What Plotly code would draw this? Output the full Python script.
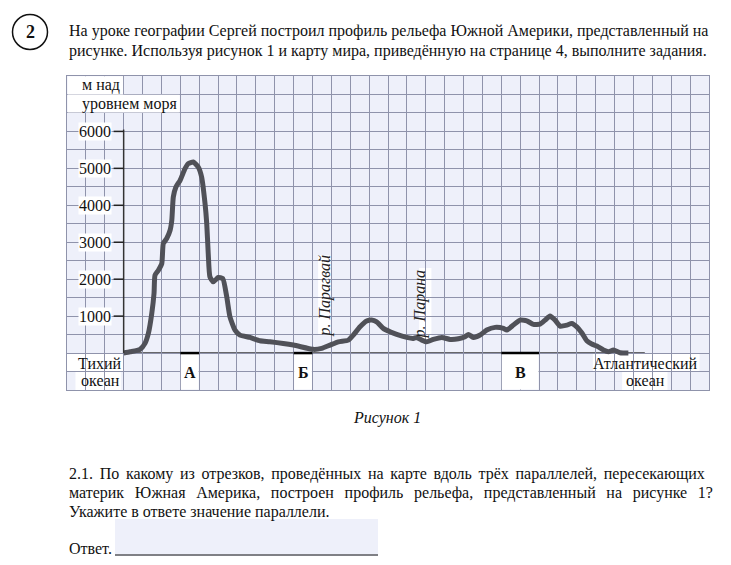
import plotly.graph_objects as go

# ---------------- data ----------------
# distance along the profile (grid cells) and elevation (m above sea level)
profile_x = [3.0, 3.34, 3.87, 4.13, 4.31, 4.49, 4.61, 4.66, 4.84, 5.02, 5.10, 5.28, 5.46, 5.55,
             5.63, 5.77, 5.99, 6.25, 6.42, 6.69, 6.95, 7.13, 7.31, 7.40, 7.48, 7.57, 7.75, 8.01,
             8.25, 8.46, 8.63, 8.90, 9.16, 9.69, 10.22, 10.75, 11.99, 13.05, 13.49, 13.93, 14.37,
             14.90, 15.16, 15.52, 15.87, 16.14, 16.40, 16.75, 17.11, 17.46, 17.99, 18.34, 18.52,
             18.79, 19.05, 19.40, 19.85, 20.29, 20.73, 21.08, 21.26, 21.52, 21.88, 22.23, 22.67,
             23.11, 23.29, 23.64, 23.99, 24.35, 24.70, 25.05, 25.32, 25.58, 25.85, 26.11, 26.47,
             26.73, 27.00, 27.26, 27.53, 27.79, 28.06, 28.41, 28.67, 28.94, 29.29, 29.73]
profile_y = [0, 35, 100, 262, 532, 1073, 1622, 2108, 2243, 2425, 2965, 3100, 3325, 3595,
             4225, 4495, 4676, 4992, 5128, 5171, 5036, 4765, 4046, 3506, 2695, 2062, 1927, 2046,
             2019, 1522, 981, 622, 487, 424, 332, 305, 216, 100, 127, 216, 305,
             351, 487, 711, 865, 892, 846, 668, 576, 505, 424, 397, 424,
             351, 305, 370, 424, 370, 387, 441, 505, 424, 487, 622, 695,
             668, 622, 757, 892, 873, 776, 784, 892, 1000, 892, 730, 757,
             803, 711, 549, 332, 243, 189, 81, 35, 81, 8, 0]

tick_values = [1000, 2000, 3000, 4000, 5000, 6000]
tick_labels = ["1000", "2000", "3000", "4000", "5000", "6000"]

segment_names = ["А", "Б", "В"]
segment_start = [6, 12, 23]
segment_end = [7, 13, 25]

river_names = ["р. Парагвай", "р. Парана"]
river_x = [13.65, 18.7]
river_y = [1550, 1320]

header_lines = [
    "На уроке географии Сергей построил профиль рельефа Южной Америки, представленный на",
    "рисунке. Используя рисунок 1 и карту мира, приведённую на странице 4, выполните задания.",
]
question_lines = [
    "2.1. По какому из отрезков, проведённых на карте вдоль трёх параллелей, пересекающих",
    "материк Южная Америка, построен профиль рельефа, представленный на рисунке 1?",
    "Укажите в ответе значение параллели.",
]

W, H = 731, 565
SERIF = "Liberation Serif, Times New Roman, DejaVu Serif, serif"
GRID = "#8f93ab"
CELL_BG = "#eef0fa"
CURVE = "#505158"


def px(x):
    return x / W


def py(y):
    return 1 - y / H


def justify(line, extra):
    """widen word gaps with fixed-width unicode spaces (justified paragraph look)"""
    return (" " + extra).join(line.split(" "))


justify_extra = ["\u2006", "\u2005\u2006", ""]

fig = go.Figure()

fig.add_trace(go.Scatter(
    x=profile_x, y=profile_y, mode="lines",
    line=dict(color=CURVE, width=5, shape="spline", smoothing=0.5),
    hoverinfo="skip", showlegend=False,
))

shapes = []
ann = []

# white cells behind labels (below grid)
for x0, x1, y0, y1 in [(0, 3, -500, 0), (0.45, 2.85, -1000, -500),
                       (27.85, 33.5, -500, 0), (29.4, 31.8, -1000, -500),
                       (13.3, 13.95, 480, 2650), (18.65, 19.3, 300, 2300)]:
    shapes.append(dict(type="rect", xref="x", yref="y", x0=x0, x1=x1, y0=y0, y1=y1,
                       fillcolor="white", line=dict(width=0), layer="below"))
# unit label rows (white)
for x0, x1, y0, y1 in [(0.03, 2.97, 7000, 7490), (0.03, 5.97, 6510, 6990)]:
    shapes.append(dict(type="rect", xref="x", yref="y", x0=x0, x1=x1, y0=y0, y1=y1,
                       fillcolor="white", line=dict(width=0), layer="above"))

# sea level baseline
shapes.append(dict(type="line", xref="x", yref="y", x0=3, x1=30.6, y0=0, y1=0,
                   line=dict(color="#3a3a3a", width=1.5), layer="below"))
# vertical axis
shapes.append(dict(type="line", xref="x", yref="y", x0=3, x1=3, y0=0, y1=6050,
                   line=dict(color="#333333", width=1.5), layer="above"))
for v, t in zip(tick_values, tick_labels):
    shapes.append(dict(type="line", xref="x", yref="y", x0=2.47, x1=3, y0=v, y1=v,
                       line=dict(color="#222222", width=1.5), layer="above"))
    ann.append(dict(x=2.4, y=v, xref="x", yref="y", text=t, showarrow=False,
                    xanchor="right", yanchor="middle", bgcolor="white", borderpad=0,
                    font=dict(family=SERIF, size=16, color="#111")))

# segments А, Б, В
for name, s, e in zip(segment_names, segment_start, segment_end):
    shapes.append(dict(type="rect", xref="x", yref="y", x0=s + 0.03, x1=e - 0.03,
                       y0=-985, y1=0, fillcolor="white", line=dict(width=0), layer="above"))
    shapes.append(dict(type="line", xref="x", yref="y", x0=s, x1=e, y0=0, y1=0,
                       line=dict(color="black", width=2.5), layer="above"))
    ann.append(dict(x=(s + e) / 2, y=-520, xref="x", yref="y", text="<b>%s</b>" % name,
                    showarrow=False, xanchor="center", yanchor="middle",
                    font=dict(family=SERIF, size=16, color="#111")))

# axis title and ocean labels
ann.append(dict(x=0.7, y=7250, xref="x", yref="y", text="м над", showarrow=False,
                xanchor="left", yanchor="middle", font=dict(family=SERIF, size=16, color="#111")))
ann.append(dict(x=0.7, y=6750, xref="x", yref="y", text="уровнем моря", showarrow=False,
                xanchor="left", yanchor="middle", font=dict(family=SERIF, size=16, color="#111")))
ann.append(dict(x=1.75, y=-270, xref="x", yref="y", text="Тихий", showarrow=False,
                xanchor="center", yanchor="middle", font=dict(family=SERIF, size=16, color="#111")))
ann.append(dict(x=1.75, y=-730, xref="x", yref="y", text="океан", showarrow=False,
                xanchor="center", yanchor="middle", font=dict(family=SERIF, size=16, color="#111")))
ann.append(dict(x=30.65, y=-270, xref="x", yref="y", text="Атлантический", showarrow=False,
                xanchor="center", yanchor="middle", font=dict(family=SERIF, size=16, color="#111")))
ann.append(dict(x=30.65, y=-730, xref="x", yref="y", text="океан", showarrow=False,
                xanchor="center", yanchor="middle", font=dict(family=SERIF, size=16, color="#111")))

for name, rx, ry in zip(river_names, river_x, river_y):
    ann.append(dict(x=rx, y=ry, xref="x", yref="y", text="<i>%s</i>" % name, showarrow=False,
                    textangle=-90, xanchor="center", yanchor="middle",
                    font=dict(family=SERIF, size=16, color="#222")))

# ---------------- page text ----------------
shapes.append(dict(type="circle", xref="paper", yref="paper",
                   x0=px(12.5), x1=px(47.5), y0=py(49.5), y1=py(14.5),
                   line=dict(color="#111", width=1.5)))
ann.append(dict(x=px(30), y=py(32), xref="paper", yref="paper", text="<b>2</b>",
                showarrow=False, xanchor="center", yanchor="middle",
                font=dict(family=SERIF, size=18, color="#111")))

for i, line in enumerate(header_lines):
    ann.append(dict(x=px(67), y=py(31 + 19.5 * i), xref="paper", yref="paper", text=line,
                    showarrow=False, xanchor="left", yanchor="middle",
                    font=dict(family=SERIF, size=16, color="#111")))

ann.append(dict(x=px(387), y=py(418), xref="paper", yref="paper", text="<i>Рисунок 1</i>",
                showarrow=False, xanchor="center", yanchor="middle",
                font=dict(family=SERIF, size=16, color="#111")))

for i, line in enumerate(question_lines):
    ann.append(dict(x=px(67), y=py(473.5 + 19 * i), xref="paper", yref="paper",
                    text=justify(line, justify_extra[i]),
                    showarrow=False, xanchor="left", yanchor="middle",
                    font=dict(family=SERIF, size=16, color="#111")))

shapes.append(dict(type="rect", xref="paper", yref="paper", x0=px(115), x1=px(378),
                   y0=py(556), y1=py(519), fillcolor=CELL_BG, line=dict(width=0)))
shapes.append(dict(type="line", xref="paper", yref="paper", x0=px(115), x1=px(378),
                   y0=py(555), y1=py(555), line=dict(color="#111", width=1)))
ann.append(dict(x=px(67), y=py(548), xref="paper", yref="paper", text="Ответ.",
                showarrow=False, xanchor="left", yanchor="middle",
                font=dict(family=SERIF, size=16, color="#111")))

fig.update_layout(
    width=W, height=H, margin=dict(l=0, r=0, t=0, b=0),
    paper_bgcolor="white", plot_bgcolor=CELL_BG,
    shapes=shapes, annotations=ann,
    xaxis=dict(domain=[px(67), px(709)], range=[0, 34], dtick=1, tick0=0,
               showgrid=True, gridcolor=GRID, gridwidth=1, zeroline=False,
               showticklabels=False, ticks="", showline=True, mirror=True,
               linecolor=GRID, linewidth=1, fixedrange=True),
    yaxis=dict(domain=[py(390), py(76)], range=[-1000, 7500], dtick=500, tick0=0,
               showgrid=True, gridcolor=GRID, gridwidth=1, zeroline=False,
               showticklabels=False, ticks="", showline=True, mirror=True,
               linecolor=GRID, linewidth=1, fixedrange=True),
)

fig.write_html("out.html", config={"displayModeBar": False},
               post_script="document.body.style.margin='0';document.body.style.overflow='hidden';")
